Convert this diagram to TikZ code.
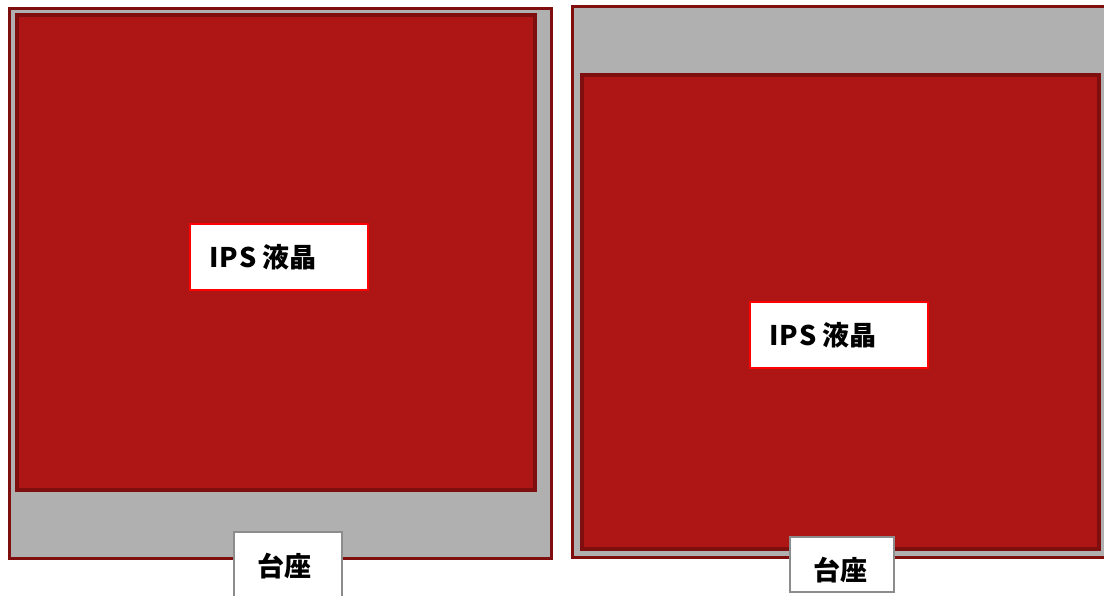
\documentclass[tikz,border=0pt]{standalone}
\usepackage{fontspec}
\newfontfamily\cjk{Noto Sans CJK JP}
\definecolor{panelred}{HTML}{AE1515}
\definecolor{edgered}{HTML}{7F0F0F}
\definecolor{basegray}{HTML}{B0B0B0}
\definecolor{labelgray}{HTML}{8C8C8C}
\tikzset{
  outerbox/.style={fill=basegray, draw=edgered, line width=3pt},
  screenbox/.style={fill=panelred, draw=edgered, line width=3.5pt},
  ipsbox/.style={fill=white, draw=red, line width=1.2pt},
  basebox/.style={fill=white, draw=labelgray, line width=1.5pt},
  lbl/.style={font=\cjk\bfseries\fontsize{27}{30}\selectfont, text=black, inner sep=0pt}
}
\begin{document}
\begin{tikzpicture}[x=1pt,y=-1pt]
\useasboundingbox (0,0) rectangle (1104,596);
% left monitor
\draw[outerbox] (9,9) rectangle (551,558);
\draw[screenbox] (17,15) rectangle (535,490);
\draw[ipsbox] (190,224) rectangle (368,290);
\node[lbl, anchor=west] (ipsL) at (209,257) {I\kern1ptP\kern1ptS 液晶};
\path[basebox, draw] (234,620) -- (234,532) -- (342,532) -- (342,620);
\node[lbl] (baseL) at (284,566) {台座};
% right monitor
\draw[outerbox] (572,7) rectangle (1112,557);
\draw[screenbox] (582,75) rectangle (1099,549);
\draw[ipsbox] (750,302) rectangle (928,368);
\node[lbl, anchor=west] (ipsR) at (769,335) {I\kern1ptP\kern1ptS 液晶};
\draw[basebox] (790,537) rectangle (894,592);
\node[lbl] (baseR) at (840,570) {台座};
\end{tikzpicture}
\end{document}
